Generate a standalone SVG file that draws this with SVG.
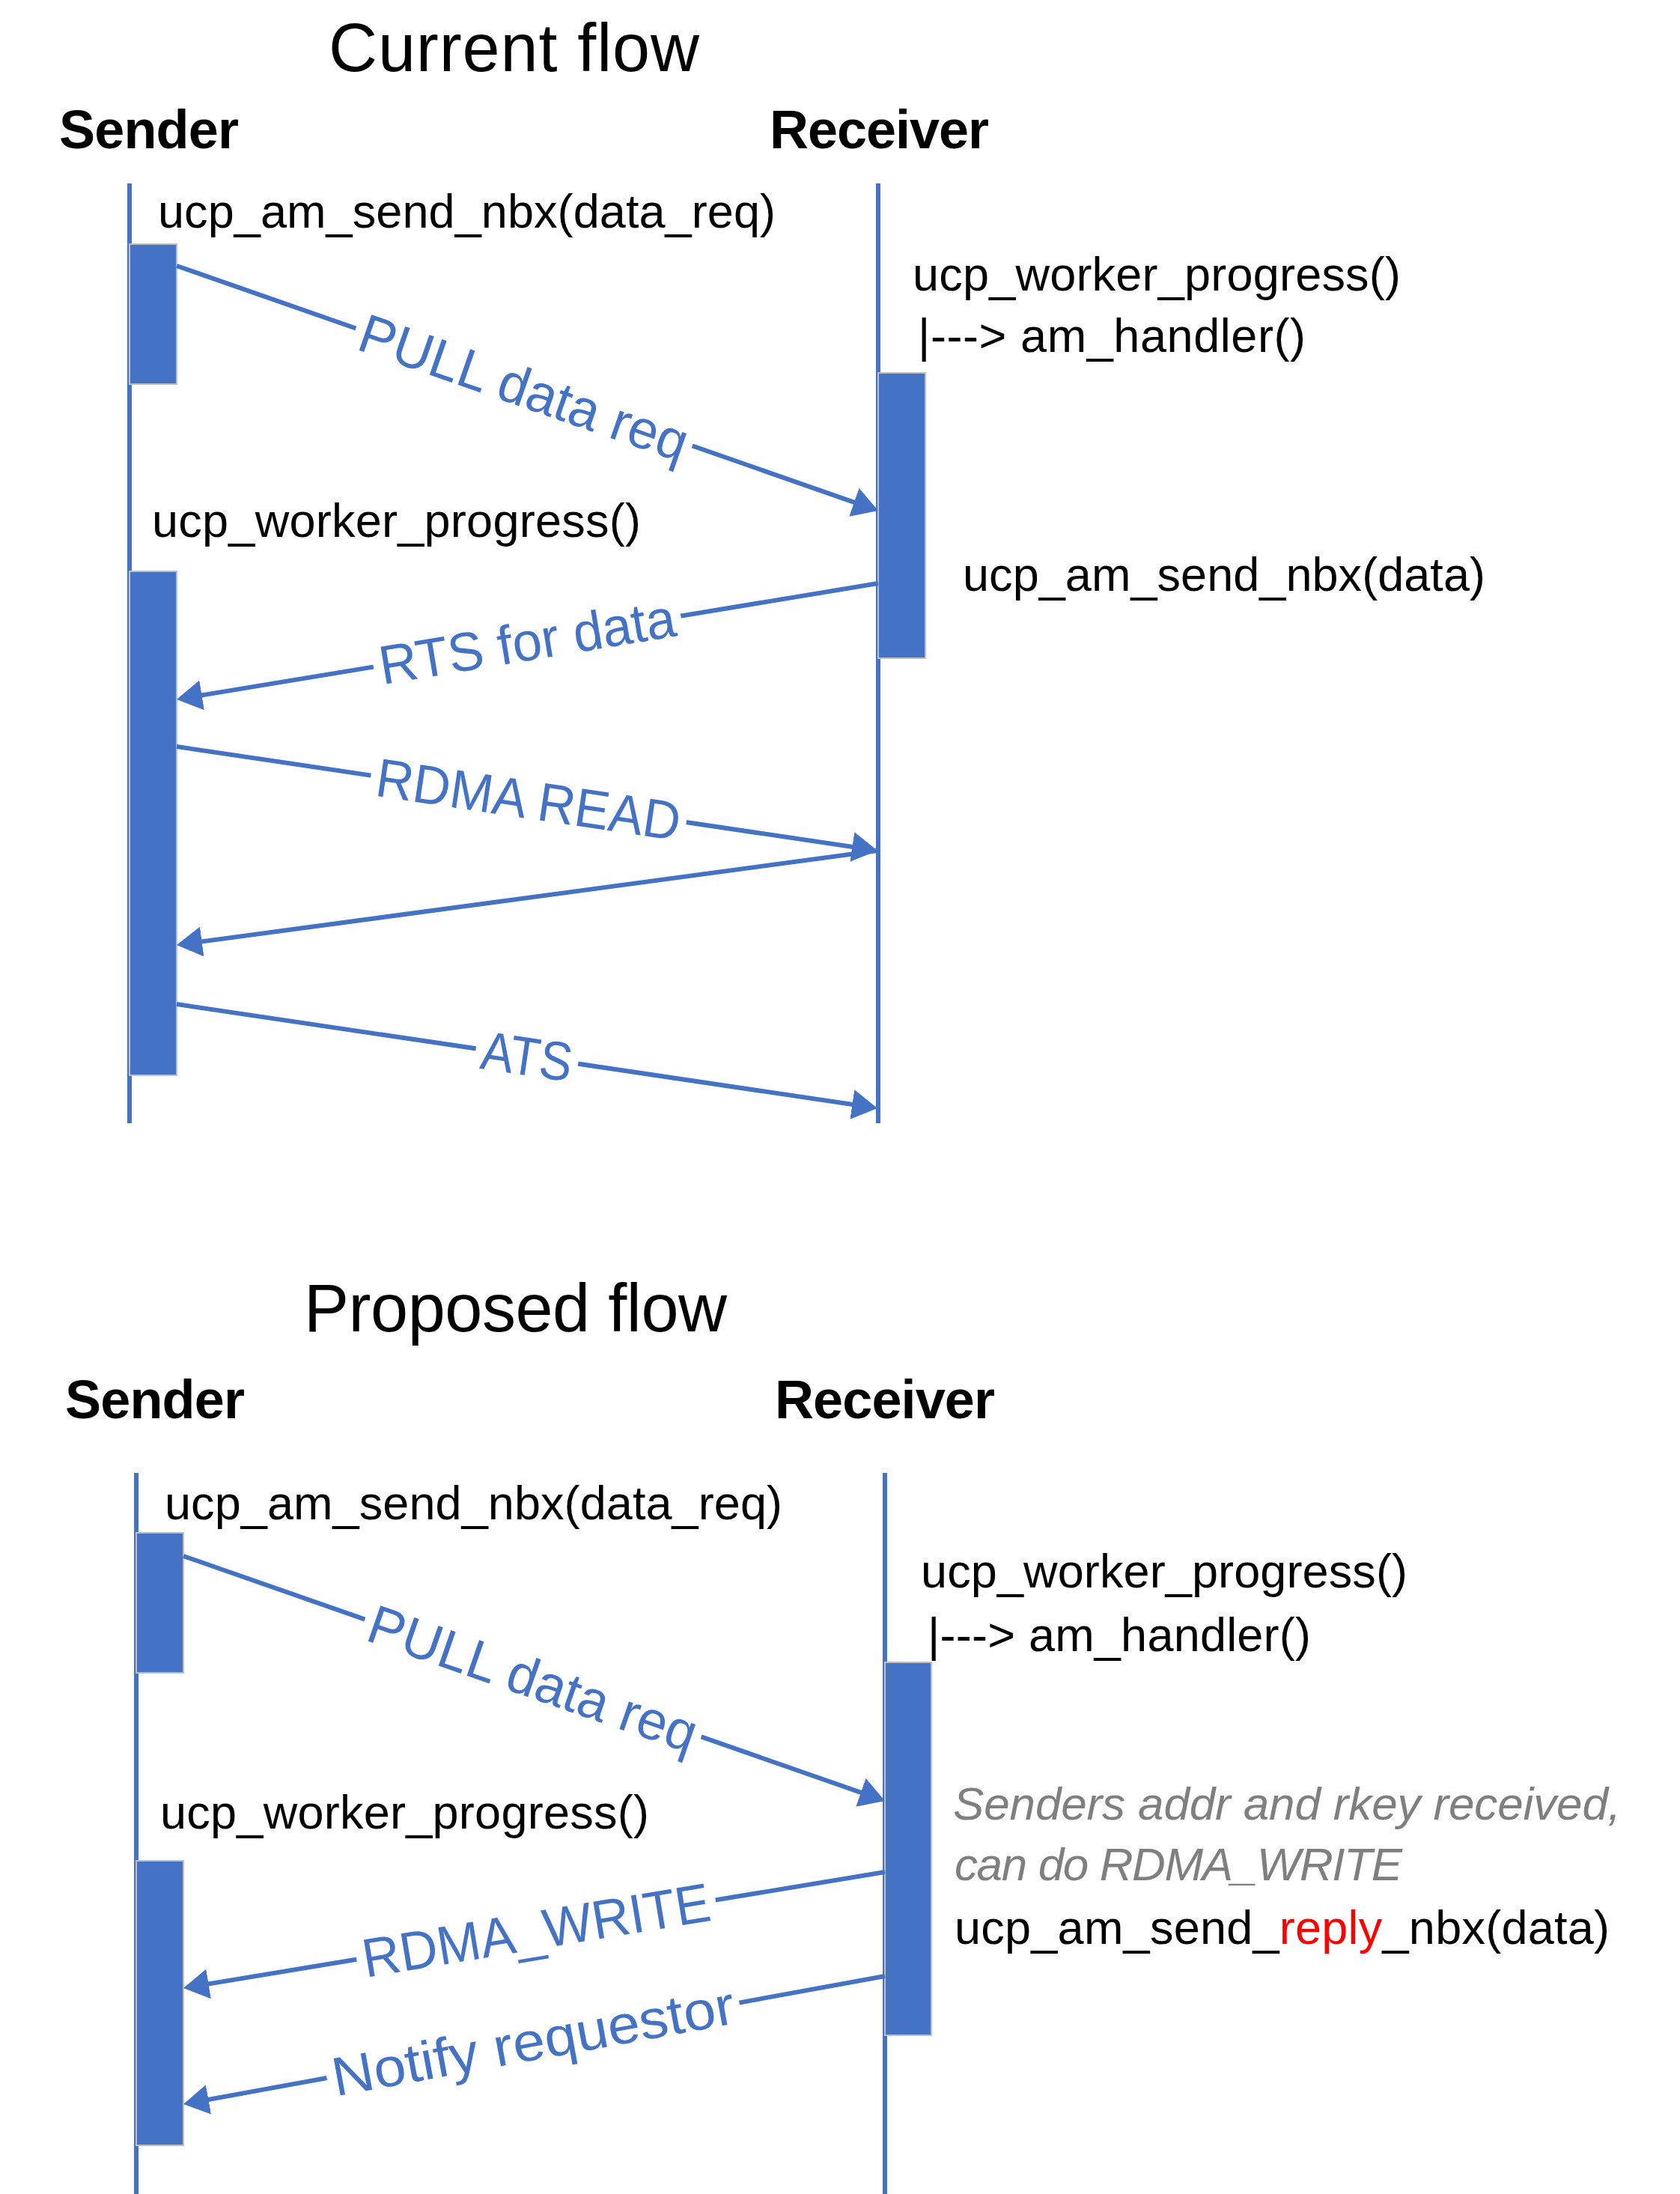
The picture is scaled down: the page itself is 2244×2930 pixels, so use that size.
<svg xmlns="http://www.w3.org/2000/svg" width="2244" height="2930" viewBox="0 0 2244 2930">
<defs>
<style>
text{font-family:"Liberation Sans",Arial,sans-serif;}
.title{font-size:90px;fill:#000;}
.actor{font-size:72px;font-weight:bold;fill:#000;}
.body{font-size:63px;fill:#000;}
.note{font-size:62px;font-style:italic;fill:#7F7F7F;}
.red{fill:#FF0000;}
.life{stroke:#4472C4;stroke-width:6;fill:none;}
.act{fill:#4472C4;stroke:#BFBFBF;stroke-width:2;}
.msg{stroke:#4472C4;stroke-width:6;fill:none;marker-end:url(#ah);}
.lbl{font-size:73px;fill:#4472C4;text-anchor:middle;}
.bg{fill:#FFFFFF;}
</style>
<marker id="ah" markerUnits="userSpaceOnUse" markerWidth="34" markerHeight="40" viewBox="0 0 34 40" refX="26" refY="20" orient="auto">
<path d="M0,0 L34,20 L0,40 z" fill="#4472C4"/>
</marker>
</defs>
<rect width="2244" height="2930" fill="#FFFFFF"/>

<!-- Current flow -->
<g id="current-title"><text class="title" x="439" y="95" textLength="495">Current flow</text></g>
<g id="sender-1"><text class="actor" x="79" y="198" textLength="240">Sender</text>
<line class="life" x1="173" y1="245" x2="173" y2="1500"/></g>
<g id="receiver-1"><text class="actor" x="1028" y="198" textLength="293">Receiver</text>
<line class="life" x1="1173" y1="245" x2="1173" y2="1500"/></g>
<g id="s1-act1"><rect class="act" x="173" y="326" width="63" height="187"/></g>
<g id="r1-act1"><rect class="act" x="1173" y="498" width="63" height="381"/></g>
<g id="s1-act2"><rect class="act" x="173" y="763" width="63" height="673"/></g>
<g id="texts-1">
<text class="body" x="211" y="304" textLength="825">ucp_am_send_nbx(data_req)</text>
<text class="body" x="1219" y="388" textLength="652">ucp_worker_progress()</text>
<text class="body" x="1226" y="470" textLength="518">|---&gt; am_handler()</text>
<text class="body" x="1286" y="789" textLength="698">ucp_am_send_nbx(data)</text>
<text class="body" x="203" y="717" textLength="653">ucp_worker_progress()</text>
</g>

<!-- Proposed flow -->
<g id="proposed-title"><text class="title" x="406" y="1778" textLength="565">Proposed flow</text></g>
<g id="sender-2"><text class="actor" x="87" y="1894" textLength="240">Sender</text>
<line class="life" x1="182" y1="1967" x2="182" y2="2930"/></g>
<g id="receiver-2"><text class="actor" x="1035" y="1894" textLength="294">Receiver</text>
<line class="life" x1="1182" y1="1967" x2="1182" y2="2930"/></g>
<g id="s2-act1"><rect class="act" x="182" y="2047" width="63" height="187"/></g>
<g id="r2-act1"><rect class="act" x="1182" y="2220" width="62" height="498"/></g>
<g id="s2-act2"><rect class="act" x="182" y="2485" width="63" height="380"/></g>
<g id="texts-2">
<text class="body" x="220" y="2029" textLength="825">ucp_am_send_nbx(data_req)</text>
<text class="body" x="1230" y="2120" textLength="650">ucp_worker_progress()</text>
<text class="body" x="1239" y="2205" textLength="512">|---&gt; am_handler()</text>
<text class="note" x="1273" y="2430" textLength="892">Senders addr and rkey received,</text>
<text class="note" x="1275" y="2511" textLength="598">can do RDMA_WRITE</text>
<text class="body" x="1275" y="2596" textLength="875">ucp_am_send_<tspan class="red">reply</tspan>_nbx(data)</text>
<text class="body" x="214" y="2442" textLength="653">ucp_worker_progress()</text>
</g>

<!-- connectors -->
<g id="connectors">
<path class="msg" d="M236,355 L1165.45,679.36"/>
<path class="msg" d="M1173,779 L243.89,932.69"/>
<path class="msg" d="M236,997 L1164.09,1134.82"/>
<path class="msg" d="M1172,1136 L243.93,1260.93"/>
<path class="msg" d="M236,1341 L1164.09,1478.82"/>
<path class="msg" d="M245,2078 L1174.45,2402.36"/>
<path class="msg" d="M1182,2500 L252.89,2653.69"/>
<path class="msg" d="M1182,2639 L252.87,2808.56"/>

<g transform="translate(700,517) rotate(19.24)"><rect class="bg" x="-238" y="-36" width="476" height="70"/><text class="lbl" x="0" y="26" textLength="460" lengthAdjust="spacingAndGlyphs">PULL data req</text></g>
<g transform="translate(704,856) rotate(-9.39)"><rect class="bg" x="-208" y="-36" width="416" height="70"/><text class="lbl" x="0" y="26" textLength="400" lengthAdjust="spacingAndGlyphs">RTS for data</text></g>
<g transform="translate(706,1067) rotate(8.45)"><rect class="bg" x="-213" y="-36" width="426" height="70"/><text class="lbl" x="0" y="26" textLength="410" lengthAdjust="spacingAndGlyphs">RDMA READ</text></g>
<g transform="translate(704,1410) rotate(8.45)"><rect class="bg" x="-69" y="-36" width="138" height="70"/><text class="lbl" x="0" y="26" textLength="122" lengthAdjust="spacingAndGlyphs">ATS</text></g>
<g transform="translate(712,2241) rotate(19.24)"><rect class="bg" x="-238" y="-36" width="476" height="70"/><text class="lbl" x="0" y="26" textLength="460" lengthAdjust="spacingAndGlyphs">PULL data req</text></g>
<g transform="translate(716,2577) rotate(-9.39)"><rect class="bg" x="-243" y="-36" width="486" height="70"/><text class="lbl" x="0" y="26" textLength="470" lengthAdjust="spacingAndGlyphs">RDMA_WRITE</text></g>
<g transform="translate(712,2725) rotate(-10.34)"><rect class="bg" x="-280" y="-36" width="560" height="70"/><text class="lbl" x="0" y="26" textLength="545" lengthAdjust="spacingAndGlyphs">Notify requestor</text></g>
</g>
</svg>
